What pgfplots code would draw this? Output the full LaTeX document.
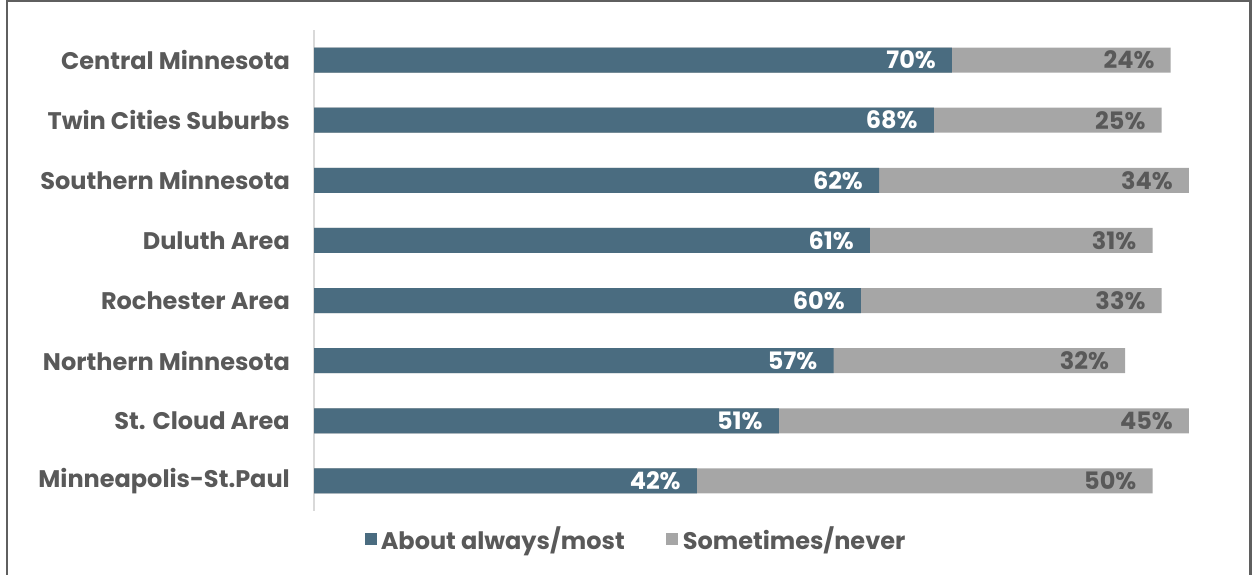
\documentclass[border=0pt]{standalone}
\usepackage{fontspec}
\setmainfont{Poppins}
\usepackage{pgfplots}
\pgfplotsset{compat=1.18}
\usepackage{pgfplotstable}
\definecolor{barblue}{RGB}{74,108,128}
\definecolor{bargray}{RGB}{166,166,166}
\definecolor{txtgray}{RGB}{89,89,89}
\definecolor{framegray}{RGB}{95,95,95}
\newcommand\lab{\fontsize{24}{28}\selectfont\bfseries}
\pgfplotstableread{
y a b
8 70 24
7 68 25
6 62 34
5 61 31
4 60 33
3 57 32
2 51 45
1 42 50
}\data
\begin{document}
\begin{tikzpicture}[x=1pt,y=1pt]
\useasboundingbox (0,0) rectangle (1252,575);
\draw[framegray, line width=2.4pt] (7,-10) -- (7,573.8) -- (1250.5,573.8) -- (1250.5,-10);
\begin{axis}[
  at={(314pt,64pt)}, anchor=south west,
  width=911.4pt, height=481pt, scale only axis,
  xmin=0, xmax=100, ymin=0.5, ymax=8.5,
  xbar, bar width=25pt, bar shift=0pt,
  axis x line=none, axis y line*=left,
  y axis line style={draw=black!15, line width=1.2pt},
  ytick={1,...,8},
  yticklabels={Minneapolis-St.Paul, St. Cloud Area, Northern Minnesota, Rochester Area, Duluth Area, Southern Minnesota, Twin Cities Suburbs, Central Minnesota},
  major tick length=0pt,
  yticklabel style={font=\lab, text=txtgray, anchor=east, inner sep=0pt, xshift=-24pt},
  point meta=explicit,
  /pgf/number format/assume math mode=true,
  nodes near coords={\pgfmathprintnumber{\pgfplotspointmeta}\%},
  legend columns=2, reverse legend,
  legend style={at={(0.0555,-0.0575)}, anchor=west, draw=none, font=\lab, text=txtgray, inner sep=0pt,
    /tikz/every even column/.append style={column sep=39pt}},
]
\addplot[fill=bargray, draw=none,
  legend image code/.code={\fill[bargray] (0pt,-6pt) rectangle (12pt,6pt); \path (15pt,0pt);},
  every node near coord/.append style={anchor=east, xshift=-16pt, font=\lab, text=txtgray, inner sep=0pt}]
  table[x expr=\thisrow{a}+\thisrow{b}, y=y, meta=b] {\data};
\addlegendentry{Sometimes/never}
\addplot[fill=barblue, draw=none,
  legend image code/.code={\fill[barblue] (0pt,-6pt) rectangle (12pt,6pt); \path (14pt,0pt);},
  every node near coord/.append style={anchor=east, xshift=-16pt, font=\lab, text=white, inner sep=0pt}]
  table[x=a, y=y, meta=a] {\data};
\addlegendentry{About always/most}
\end{axis}
\end{tikzpicture}
\end{document}
